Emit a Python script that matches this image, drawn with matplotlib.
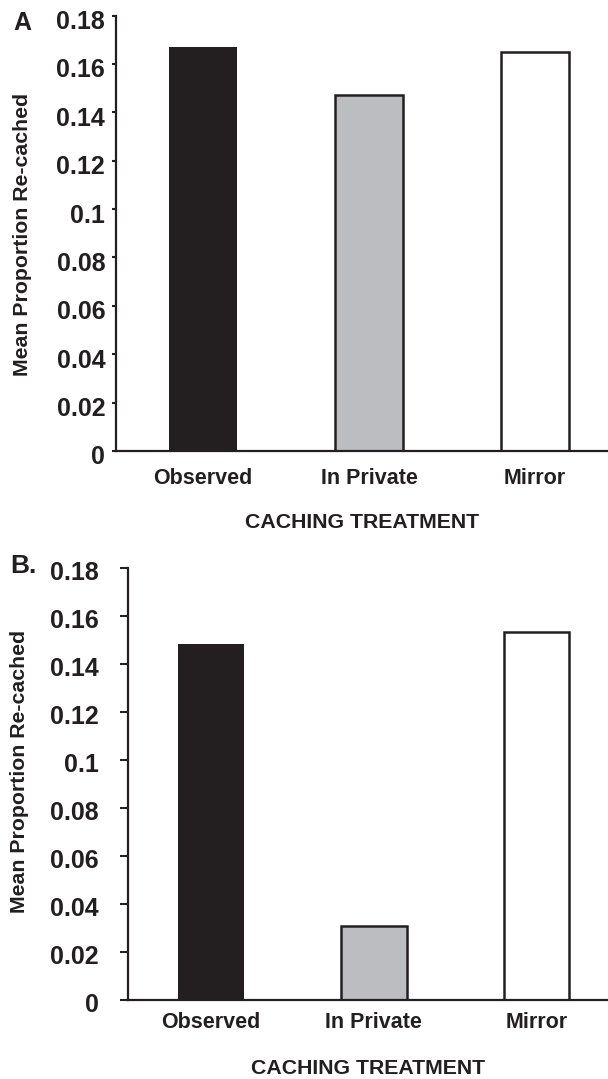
import matplotlib
matplotlib.use('Agg')
import matplotlib.pyplot as plt
import matplotlib.transforms as mtransforms

plt.rcParams['font.family'] = ['Liberation Sans', 'DejaVu Sans']
plt.rcParams['font.weight'] = 'bold'

categories = ['Observed', 'In Private', 'Mirror']
recached_a = [0.167, 0.147, 0.165]
recached_b = [0.148, 0.031, 0.153]
ytick_vals = [0, 0.02, 0.04, 0.06, 0.08, 0.1, 0.12, 0.14, 0.16, 0.18]
ytick_labels = ['0', '0.02', '0.04', '0.06', '0.08', '0.1', '0.12', '0.14', '0.16', '0.18']

ink = '#231f20'
fills = [ink, '#bcbdc0', 'white']

fig = plt.figure(figsize=(6.08, 10.79), dpi=100)


def panel(rect, values, xlim, width, tick_len, ypad, xpad, label_shift):
    ax = fig.add_axes(rect)
    x = range(len(categories))
    for i, v in enumerate(values):
        ax.bar(i, v, width=width, color=fills[i],
               edgecolor=ink if i else fills[i], linewidth=1.8 if i else 0)
    ax.set_xlim(*xlim)
    ax.set_ylim(0, 0.18)
    ax.set_xticks(list(x))
    ax.set_xticklabels(categories, fontsize=15.5, color=ink)
    ax.set_yticks(ytick_vals)
    ax.set_yticklabels(ytick_labels, fontsize=18, color=ink)
    ax.tick_params(axis='x', length=0, pad=xpad)
    ax.tick_params(axis='y', length=tick_len, width=1.5, color=ink, pad=ypad)
    for s in ['top', 'right']:
        ax.spines[s].set_visible(False)
    for s in ['left', 'bottom']:
        ax.spines[s].set_linewidth(1.6)
        ax.spines[s].set_color(ink)
    off = mtransforms.ScaledTranslation(0, -label_shift / 100, fig.dpi_scale_trans)
    for lab in ax.get_yticklabels():
        lab.set_transform(lab.get_transform() + off)
    return ax


ax_a = panel([116.3 / 608, 1 - 451 / 1079, 1 - 116.3 / 608, 435.5 / 1079],
             recached_a, (-0.523, 2.44), 0.41, 3, 5, 12.5, 4)
ax_b = panel([127.9 / 608, 1 - 1000 / 1079, 1 - 127.9 / 608, 432.5 / 1079],
             recached_b, (-0.512, 2.44), 0.405, 6, 15, 9, 3)

ylab = 'Mean Proportion Re-cached'
fig.text(22.5 / 608, 1 - 234 / 1079, ylab, rotation=90, ha='center', va='center',
         fontsize=15.3, color=ink)
fig.text(19.5 / 608, 1 - 771 / 1079, ylab, rotation=90, ha='center', va='center',
         fontsize=15.3, color=ink)

fig.text(362 / 608, 1 - 522 / 1079, 'CACHING TREATMENT', ha='center', va='center',
         fontsize=15.3, color=ink)
fig.text(368 / 608, 1 - 1068 / 1079, 'CACHING TREATMENT', ha='center', va='center',
         fontsize=15.3, color=ink)

fig.text(13.5 / 608, 1 - 23 / 1079, 'A', ha='left', va='center', fontsize=18, color=ink)
fig.text(10 / 608, 1 - 566 / 1079, 'B.', ha='left', va='center', fontsize=19, color=ink)

fig.savefig('out.png', dpi=100)
